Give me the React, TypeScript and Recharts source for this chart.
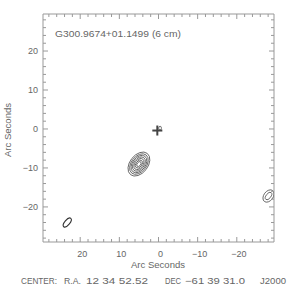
import { ScatterChart, Scatter, XAxis, YAxis } from "recharts";

// map extent in arc seconds (RA offset runs right-to-left)
const X_DOMAIN = [-29.5, 29.5];
const Y_DOMAIN = [-29.0, 29.5];
const TICKS = [-28, -26, -24, -22, -20, -18, -16, -14, -12, -10, -8, -6, -4, -2, 0, 2, 4, 6, 8, 10, 12, 14, 16, 18, 20, 22, 24, 26, 28];

// main source contours (semi-axes in arcsec)
const mainCenter = { ra: 5.0, dec: -9.0, pa: 52 };
const mainMajor = [3.45, 2.95, 2.5, 2.05, 1.6, 1.15, 0.7];
const mainMinor = [2.3, 1.95, 1.65, 1.35, 1.05, 0.75, 0.45];

// weak source on the west edge
const westCenter = { ra: -28.1, dec: -17.2, pa: 53 };
const westMajor = [1.75, 1.1];
const westMinor = [1.2, 0.6];

// small blob beside the phase centre
const blobCenter = { ra: -0.4, dec: 0.2, pa: 90 };
const blobMajor = [0.5];
const blobMinor = [0.35];

// synthesized beam
const beamCenter = { ra: 23.3, dec: -24.0, pa: 50 };
const beamMajor = [1.4];
const beamMinor = [0.63];

// phase centre marker
const crossPos = [{ ra: 0.3, dec: -0.4 }];

const W = 288;
const H = 288;
// axes are 1px thick, so the plot box is 43..274 x 14..242
const M = { top: 13, right: 13, bottom: 45, left: 42 };
const PX = (W - M.left - M.right - 2) / (X_DOMAIN[1] - X_DOMAIN[0]);

const AXIS = "#999";
const TEXT = "#666";
const FONT = "'Liberation Sans', Arial, sans-serif";

const levels = (c: { ra: number; dec: number; pa: number }, a: number[], b: number[]) =>
  a.map((v, i) => ({ ra: c.ra, dec: c.dec, pa: c.pa, a: v, b: b[i] }));

const mainData = levels(mainCenter, mainMajor, mainMinor);
const westData = levels(westCenter, westMajor, westMinor);
const blobData = levels(blobCenter, blobMajor, blobMinor);
const beamData = levels(beamCenter, beamMajor, beamMinor);

const fmt = (v: number) => (v < 0 ? `\u2212${Math.abs(v)}` : `${v}`);

const ellipseShape = (color: string, width: number) => (props: any) => {
  const { cx, cy, payload } = props;
  return (
    <ellipse
      cx={cx}
      cy={cy}
      rx={payload.a * PX}
      ry={payload.b * PX}
      transform={`rotate(${-payload.pa} ${cx} ${cy})`}
      fill="none"
      stroke={color}
      strokeWidth={width}
    />
  );
};

const crossShape = (props: any) => {
  const { cx, cy } = props;
  return (
    <g stroke="#444" strokeWidth={2}>
      <line x1={cx - 5} x2={cx + 5} y1={cy} y2={cy} />
      <line x1={cx} x2={cx} y1={cy - 5} y2={cy + 5} />
    </g>
  );
};

const tickLen = (v: number) => (v % 10 === 0 ? 5 : 3);

const BottomTick = ({ x, y, payload }: any) => (
  <g>
    <line x1={x} x2={x} y1={y} y2={y - tickLen(payload.value)} stroke={AXIS} />
    {payload.value % 10 === 0 && (
      <text x={x + 2} y={y + 15} textAnchor="middle" fontSize={9} fill={TEXT} fontFamily={FONT}>
        {fmt(payload.value)}
      </text>
    )}
  </g>
);

const TopTick = ({ x, y, payload }: any) => (
  <line x1={x} x2={x} y1={y} y2={y + tickLen(payload.value)} stroke={AXIS} />
);

const LeftTick = ({ x, y, payload }: any) => (
  <g>
    <line x1={x} x2={x + tickLen(payload.value)} y1={y} y2={y} stroke={AXIS} />
    {payload.value % 10 === 0 && (
      <text x={x - 5} y={y + 3} textAnchor="end" fontSize={9} fill={TEXT} fontFamily={FONT}>
        {fmt(payload.value)}
      </text>
    )}
  </g>
);

const RightTick = ({ x, y, payload }: any) => (
  <line x1={x} x2={x - tickLen(payload.value)} y1={y} y2={y} stroke={AXIS} />
);

export default function App() {
  return (
    <div style={{ position: "absolute", left: 0, top: 0, width: W, height: H, background: "#fff" }}>
      <ScatterChart width={W} height={H} margin={M}>
        <XAxis
          xAxisId="b"
          type="number"
          dataKey="ra"
          domain={X_DOMAIN}
          reversed
          allowDataOverflow
          ticks={TICKS}
          interval={0}
          height={1}
          tickSize={0}
          tickMargin={0}
          tick={<BottomTick />}
          axisLine={{ stroke: AXIS }}
          tickLine={false}
        />
        <XAxis
          xAxisId="t"
          orientation="top"
          type="number"
          dataKey="ra"
          domain={X_DOMAIN}
          reversed
          allowDataOverflow
          ticks={TICKS}
          interval={0}
          height={1}
          tickSize={0}
          tickMargin={0}
          tick={<TopTick />}
          axisLine={{ stroke: AXIS }}
          tickLine={false}
        />
        <YAxis
          yAxisId="l"
          type="number"
          dataKey="dec"
          domain={Y_DOMAIN}
          allowDataOverflow
          ticks={TICKS}
          interval={0}
          width={1}
          tickSize={0}
          tickMargin={0}
          tick={<LeftTick />}
          axisLine={{ stroke: AXIS }}
          tickLine={false}
        />
        <YAxis
          yAxisId="r"
          orientation="right"
          type="number"
          dataKey="dec"
          domain={Y_DOMAIN}
          allowDataOverflow
          ticks={TICKS}
          interval={0}
          width={1}
          tickSize={0}
          tickMargin={0}
          tick={<RightTick />}
          axisLine={{ stroke: AXIS }}
          tickLine={false}
        />
        <Scatter xAxisId="b" yAxisId="l" data={mainData} shape={ellipseShape("#666", 0.9)} isAnimationActive={false} />
        <Scatter xAxisId="b" yAxisId="l" data={westData} shape={ellipseShape("#666", 0.9)} isAnimationActive={false} />
        <Scatter xAxisId="b" yAxisId="l" data={blobData} shape={ellipseShape("#666", 0.9)} isAnimationActive={false} />
        <Scatter xAxisId="b" yAxisId="l" data={beamData} shape={ellipseShape("#333", 1.1)} isAnimationActive={false} />
        <Scatter xAxisId="b" yAxisId="l" data={crossPos} shape={crossShape} isAnimationActive={false} />
      </ScatterChart>
      <svg
        width={W}
        height={H}
        style={{ position: "absolute", left: 0, top: 0, pointerEvents: "none" }}
        fontFamily={FONT}
        fontSize={9}
        fill={TEXT}
      >
        <text x={55} y={37} textLength={126} lengthAdjust="spacingAndGlyphs">
          G300.9674+01.1499 (6 cm)
        </text>
        <text x={158} y={268} textAnchor="middle" textLength={54} lengthAdjust="spacingAndGlyphs">
          Arc Seconds
        </text>
        <text
          x={0}
          y={0}
          transform="translate(11 130) rotate(-90)"
          textAnchor="middle"
          textLength={54}
          lengthAdjust="spacingAndGlyphs"
        >
          Arc Seconds
        </text>
        <text x={21} y={284} textLength={36} lengthAdjust="spacingAndGlyphs">CENTER:</text>
        <text x={64} y={284} textLength={17} lengthAdjust="spacingAndGlyphs">R.A.</text>
        <text x={86} y={284} textLength={62} lengthAdjust="spacingAndGlyphs">12 34 52.52</text>
        <text x={165} y={284} textLength={16} lengthAdjust="spacingAndGlyphs">DEC</text>
        <text x={185} y={284} textLength={60} lengthAdjust="spacingAndGlyphs">{"\u221261 39 31.0"}</text>
        <text x={260} y={284} textLength={26} lengthAdjust="spacingAndGlyphs">J2000</text>
      </svg>
    </div>
  );
}
